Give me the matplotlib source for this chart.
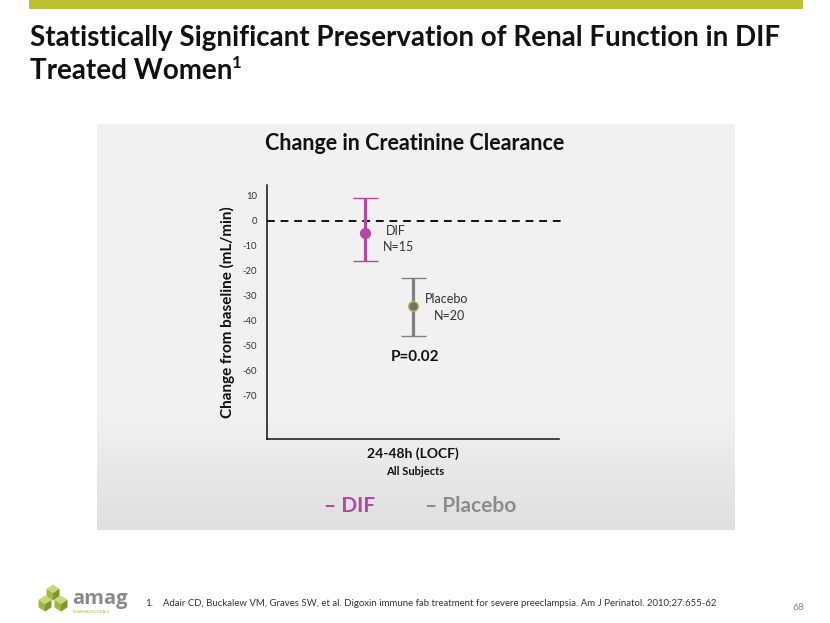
import matplotlib
matplotlib.use("Agg")
import matplotlib.pyplot as plt
import numpy as np
from matplotlib.patches import Rectangle, Polygon

# ---- data ----
groups = ["DIF", "Placebo"]
group_n = ["N=15", "N=20"]
means = [-5, -34]
lower = [-16, -46]
upper = [9, -23]
x_offsets = [-1, 0]
colors = ["#B5479F", "#808080"]
yticks = [10, 0, -10, -20, -30, -40, -50, -60, -70]
category = "24-48h (LOCF)"

W, H = 830, 623
FONT = "Lato"
fig = plt.figure(figsize=(W / 100, H / 100), dpi=100)
fig.patch.set_facecolor("white")

bg = fig.add_axes([0, 0, 1, 1], zorder=0)
bg.set_xlim(0, W)
bg.set_ylim(H, 0)
bg.axis("off")

# top bar
bg.add_patch(Rectangle((29, 0), 774, 8.5, color="#BCC033", lw=0))
# panel with gradient
grad = np.linspace(0, 1, 200)
vals = np.where(grad < 0.7, 0, (grad - 0.7) / 0.3)
img = np.zeros((200, 1, 3))
top_c = np.array([0.949, 0.949, 0.949])
bot_c = np.array([0.875, 0.875, 0.875])
for i, v in enumerate(vals):
    img[i, 0, :] = top_c * (1 - v) + bot_c * v
bg.imshow(img, extent=(97, 734, 530, 124), aspect="auto", zorder=1)

# title
t1 = bg.text(30, 46, "Statistically Significant Preservation of Renal Function in DIF",
             fontsize=20, fontweight="bold", family=FONT, va="baseline", color="#111111")
t2 = bg.text(30, 79, "Treated Women", fontsize=20, fontweight="bold", family=FONT,
             va="baseline", color="#111111")
fig.canvas.draw()
r = fig.canvas.get_renderer()
bb = t2.get_window_extent(r)
xend = bb.x1
bg.text(xend - 1, 68, "1", fontsize=12, fontweight="bold", family=FONT, va="baseline", color="#111111")

# chart title
bg.text(415, 150, "Change in Creatinine Clearance", fontsize=15.5, fontweight="bold",
        family=FONT, ha="center", va="baseline", color="#111111")

# legend
bg.text(350, 512, "– DIF", fontsize=15, fontweight="bold", family=FONT, ha="center",
        va="baseline", color=colors[0])
bg.text(471, 512, "– Placebo", fontsize=15, fontweight="bold", family=FONT, ha="center",
        va="baseline", color="#8c8c8c")

# footnote
bg.text(145, 606, "1.", fontsize=7, family=FONT, va="baseline", color="#333333")
bg.text(163, 606, "Adair CD, Buckalew VM, Graves SW, et al. Digoxin immune fab treatment for severe preeclampsia. Am J Perinatol. 2010;27:655-62",
        fontsize=6.9, family=FONT, va="baseline", color="#333333")
bg.text(798, 610, "68", fontsize=7.5, family=FONT, ha="center", va="baseline", color="#888888")

# logo
def rh(pts, c):
    bg.add_patch(Polygon(pts, closed=True, color=c, lw=0, zorder=3))
g1, g2, g3 = "#C9D77A", "#9DB840", "#7C9A2A"
def cube(cx, cy, s=6.5, h=7.5):
    rh([(cx, cy), (cx + s, cy + 4.3), (cx, cy + 8.6), (cx - s, cy + 4.3)], g1)
    rh([(cx - s, cy + 4.3), (cx, cy + 8.6), (cx, cy + 8.6 + h), (cx - s, cy + 4.3 + h)], g2)
    rh([(cx + s, cy + 4.3), (cx, cy + 8.6), (cx, cy + 8.6 + h), (cx + s, cy + 4.3 + h)], g3)
cube(53, 584.5)
cube(45, 595.5)
cube(61, 595.5)
bg.text(72, 604, "amag", fontsize=14.5, fontweight="bold", family="Open Sans", va="baseline", color="#8a8a8a")
bg.text(73, 613, "PHARMACEUTICALS", fontsize=2.8, family=FONT, va="baseline", color="#9DB840")

# ---- data axes ----
ax_l, ax_r, ax_t, ax_b = 267, 559, 185, 439
ax = fig.add_axes([ax_l / W, 1 - ax_b / H, (ax_r - ax_l) / W, (ax_b - ax_t) / H], zorder=5)
ax.patch.set_alpha(0)
px_per_unit = 2.5
zero_px = 220.7
ax.set_ylim(-(ax_b - zero_px) / px_per_unit, (zero_px - ax_t) / px_per_unit)
ax.set_xlim(-(413 - ax_l) / 48, (ax_r - 413) / 48)

for s in ["top", "right"]:
    ax.spines[s].set_visible(False)
for s in ["left", "bottom"]:
    ax.spines[s].set_color("#111111")
    ax.spines[s].set_linewidth(1.1)

ax.set_yticks(yticks)
ax.set_yticklabels([str(v) for v in yticks], fontsize=6.8, family=FONT, color="#333333")
ax.tick_params(axis="y", length=0, pad=7)
ax.set_xticks([0])
ax.set_xticklabels([category], fontsize=10, fontweight="bold", family=FONT, color="#111111")
ax.tick_params(axis="x", length=0, pad=6)
ax.set_ylabel("Change from baseline (mL/min)", fontsize=11, fontweight="bold",
              family=FONT, color="#111111")
ax.yaxis.set_label_coords(-0.11, 0.5)

ax.axhline(0, color="#111111", lw=1.4, ls=(0, (4, 3)), zorder=2, clip_on=False,
           xmax=1.01)

for i in range(len(groups)):
    ax.errorbar(x_offsets[i], means[i],
                yerr=[[means[i] - lower[i]], [upper[i] - means[i]]],
                fmt="o", color=colors[i], ecolor=colors[i], elinewidth=2.3,
                capsize=9, capthick=2.3, markersize=7,
                markerfacecolor=colors[i] if i == 0 else "#707070",
                markeredgecolor=colors[i] if i == 0 else "#B8B84A",
                markeredgewidth=1, zorder=4)

# annotations
ax.text(x_offsets[0] + 0.65, -4.0, groups[0], fontsize=9, family=FONT, ha="center",
        va="center", color="#333333")
ax.text(x_offsets[0] + 0.7, -10.5, group_n[0], fontsize=9, family=FONT, ha="center",
        va="center", color="#333333")
ax.text(x_offsets[1] + 0.7, -31.5, groups[1], fontsize=9, family=FONT, ha="center",
        va="center", color="#333333")
ax.text(x_offsets[1] + 0.75, -38.3, group_n[1], fontsize=9, family=FONT, ha="center",
        va="center", color="#333333")
ax.text(0.05, -54.5, "P=0.02", fontsize=11, fontweight="bold", family=FONT,
        ha="center", va="center", color="#111111")

bg.text(415, 475, "All Subjects", fontsize=8, fontweight="bold", family=FONT,
        ha="center", va="baseline", color="#111111")

fig.savefig("out.png", dpi=100, facecolor="white")
